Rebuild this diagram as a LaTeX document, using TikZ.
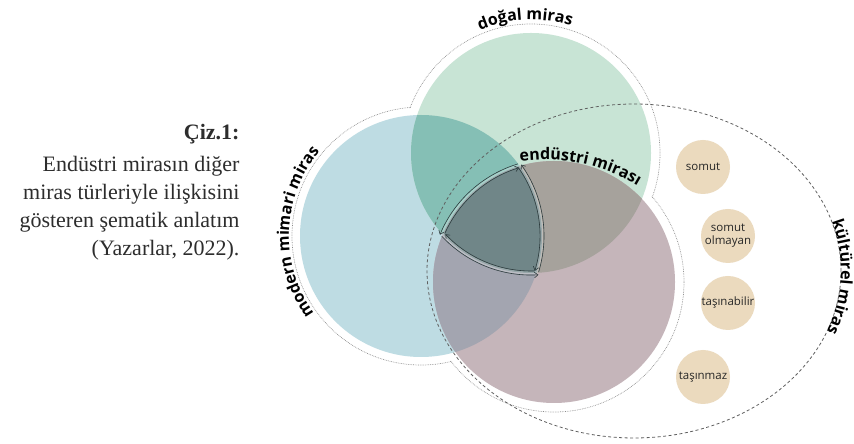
\documentclass[tikz,border=0pt]{standalone}
\usepackage{fontspec}
\setmainfont{Liberation Serif}
\newfontfamily\lblfont{Open Sans}
\usetikzlibrary{decorations.text,arrows.meta,calc}
\definecolor{blueC}{RGB}{190,220,227}
\definecolor{greenC}{RGB}{200,228,213}
\definecolor{mauveC}{RGB}{197,181,186}
\definecolor{tealC}{RGB}{133,191,181}
\definecolor{gmC}{RGB}{166,162,156}
\definecolor{bmC}{RGB}{163,165,176}
\definecolor{triC}{RGB}{112,134,136}
\definecolor{beigeC}{RGB}{235,218,190}
\definecolor{outlC}{RGB}{140,140,140}
\definecolor{dashC}{RGB}{95,95,95}
\definecolor{arrC}{RGB}{45,60,62}
\definecolor{capC}{RGB}{45,45,45}
\newcommand{\lblfmt}{\lblfont\bfseries\fontsize{16}{16}\selectfont}
\begin{document}
\begin{tikzpicture}[x=1pt,y=1pt,
  outl/.style={draw=outlC,line width=0.7pt,densely dotted},
  dashE/.style={draw=dashC,line width=0.8pt,dash pattern=on 3pt off 2.5pt},
  band/.style={draw=white,opacity=0.28,line width=3pt},
  arrl/.style={draw=arrC,line width=0.6pt,-{Straight Barb[length=3.5pt,width=5.5pt]}},
  beige/.style={circle,fill=beigeC,minimum size=54pt,inner sep=0pt,align=center,
    font=\lblfont\fontsize{11.5}{13}\selectfont,text=black!85},
  capline/.style={anchor=base east,font=\fontsize{22}{26}\selectfont,text=capC}]
\useasboundingbox (0,0) rectangle (854,444);
\fill[white] (0,0) rectangle (854,444);
\coordinate (cG) at (531,291);
\coordinate (cB) at (421,208);
\coordinate (cM) at (554,162);
\coordinate (cE) at (634,173);
\coordinate (cT) at (545,104);
% outer outline (union)
\draw[outl] (cG) circle[radius=129];
\draw[outl] (cB) circle[radius=129];
\draw[outl] (cM) circle[radius=130];
\fill[white] (cG) circle[radius=128.2];
\fill[white] (cB) circle[radius=128.2];
\fill[white] (cM) circle[radius=129.2];
% circles
\fill[blueC] (cB) circle[radius=121];
\fill[greenC] (cG) circle[radius=120];
\fill[mauveC] (cM) circle[radius=121];
\begin{scope}
  \clip (cG) circle[radius=120];
  \fill[gmC] (cM) circle[radius=121];
\end{scope}
\begin{scope}
  \clip (cB) circle[radius=121];
  \fill[tealC] (cG) circle[radius=120];
  \fill[bmC] (cM) circle[radius=121];
  \clip (cG) circle[radius=120];
  \fill[triC] (cM) circle[radius=121];
\end{scope}
% cultural heritage ellipse
\draw[dashE] (cE) ellipse[x radius=207,y radius=167];
% arrows round the common region
\draw[band] ($(cM)+(157:121.5)$) arc[start angle=157,end angle=106.5,radius=121.5];
\draw[arrl] ($(cM)+(156:119.5)$) arc[start angle=156,end angle=107,radius=119.5];
\draw[arrl] ($(cM)+(107:123.5)$) arc[start angle=107,end angle=157.5,radius=123.5];
\draw[band] ($(cB)+(35.3:121)$) arc[start angle=35.3,end angle=-17.8,radius=121];
\draw[arrl] ($(cB)+(35:119)$) arc[start angle=35,end angle=-17,radius=119];
\draw[arrl] ($(cB)+(-17:123)$) arc[start angle=-17,end angle=35.5,radius=123];
\draw[band] ($(cG)+(222.7:120)$) arc[start angle=222.7,end angle=272.5,radius=120];
\draw[arrl] ($(cG)+(272:118)$) arc[start angle=272,end angle=223.5,radius=118];
\draw[arrl] ($(cG)+(223:122)$) arc[start angle=223,end angle=273.5,radius=122];
% beige nodes
\node[beige] (b1) at (703,277) {somut};
\node[beige] (b2) at (728,208) {somut\\olmayan};
\node[beige] (b3) at (728,141) {taşınabilir};
\node[beige] (b4) at (703,67) {taşınmaz};
% curved labels
\path[decorate,decoration={text along path,text align=center,text color=black,
  text={|\lblfmt|doğal miras}}] ($(cG)+(130:133)$) arc[start angle=130,end angle=55,radius=133];
\path[decorate,decoration={text along path,text align=center,text color=black,
  text={|\lblfmt|modern mimari miras}}] ($(cB)+(225:132)$) arc[start angle=225,end angle=131,radius=132];
\path[decorate,decoration={text along path,text align=center,text color=black,
  text={|\lblfmt|endüstri mirası}}] ($(cT)+(108:180)$) arc[start angle=108,end angle=49,radius=180];
\path[decorate,decoration={text along path,text align=center,text color=black,
  text={|\lblfmt|kültürel miras}}] ($(cE)+(25:207 and 168)$) arc[start angle=25,end angle=-29,x radius=207,y radius=168];
% caption
\node[capline,font=\bfseries\fontsize{22}{26}\selectfont] (c0) at (243,304) {Çiz.1:};
\node[capline] (c1) at (243,272) {Endüstri mirasın diğer};
\node[capline] (c2) at (243,244) {miras türleriyle ilişkisini};
\node[capline] (c3) at (243,216) {gösteren şematik anlatım};
\node[capline] (c4) at (243,188) {(Yazarlar, 2022).};
\end{tikzpicture}
\end{document}
